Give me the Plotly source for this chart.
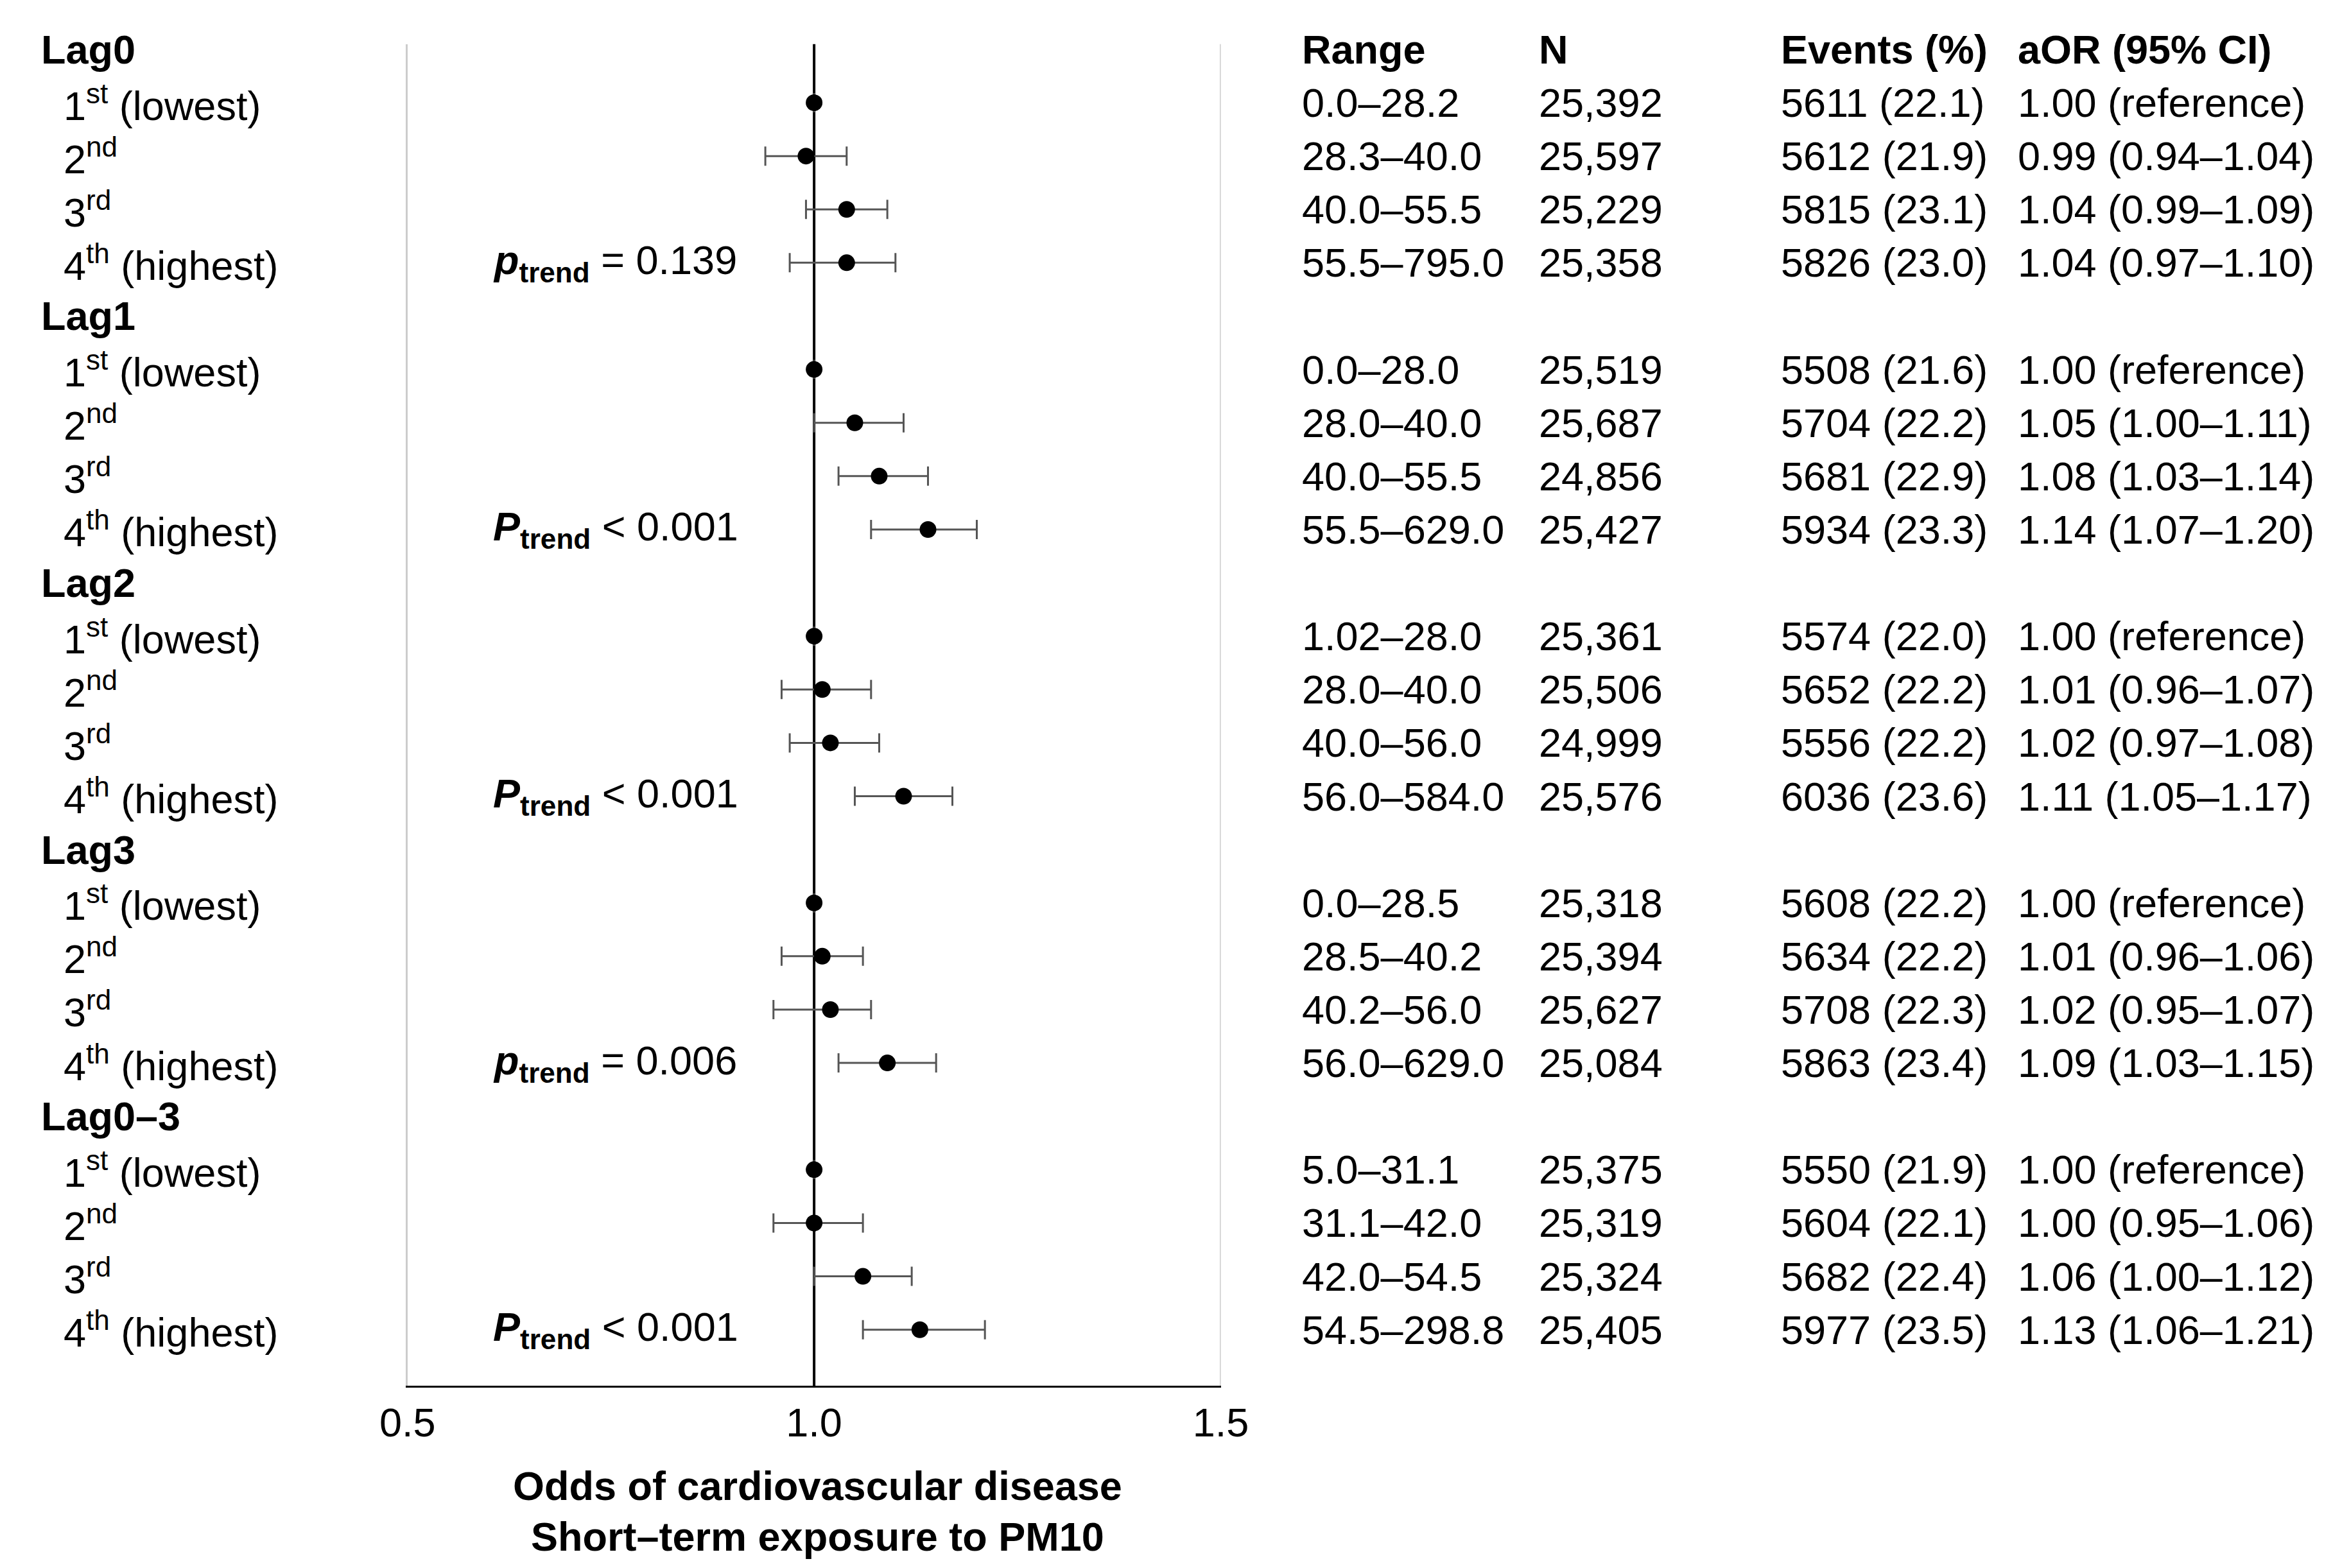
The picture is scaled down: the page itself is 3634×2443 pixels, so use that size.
import plotly.graph_objects as go

W, H = 3634, 2443

lags = ["Lag0", "Lag1", "Lag2", "Lag3", "Lag0–3"]
quart = ["1<sup>st</sup> (lowest)", "2<sup>nd</sup>", "3<sup>rd</sup>", "4<sup>th</sup> (highest)"]
ptrend = ["<b><i>p</i></b><sub><b>trend</b></sub> = 0.139",
          "<b><i>P</i></b><sub><b>trend</b></sub> < 0.001",
          "<b><i>P</i></b><sub><b>trend</b></sub> < 0.001",
          "<b><i>p</i></b><sub><b>trend</b></sub> = 0.006",
          "<b><i>P</i></b><sub><b>trend</b></sub> < 0.001"]
ranges = [["0.0–28.2", "28.3–40.0", "40.0–55.5", "55.5–795.0"],
          ["0.0–28.0", "28.0–40.0", "40.0–55.5", "55.5–629.0"],
          ["1.02–28.0", "28.0–40.0", "40.0–56.0", "56.0–584.0"],
          ["0.0–28.5", "28.5–40.2", "40.2–56.0", "56.0–629.0"],
          ["5.0–31.1", "31.1–42.0", "42.0–54.5", "54.5–298.8"]]
ns = [["25,392", "25,597", "25,229", "25,358"],
      ["25,519", "25,687", "24,856", "25,427"],
      ["25,361", "25,506", "24,999", "25,576"],
      ["25,318", "25,394", "25,627", "25,084"],
      ["25,375", "25,319", "25,324", "25,405"]]
events = [["5611 (22.1)", "5612 (21.9)", "5815 (23.1)", "5826 (23.0)"],
          ["5508 (21.6)", "5704 (22.2)", "5681 (22.9)", "5934 (23.3)"],
          ["5574 (22.0)", "5652 (22.2)", "5556 (22.2)", "6036 (23.6)"],
          ["5608 (22.2)", "5634 (22.2)", "5708 (22.3)", "5863 (23.4)"],
          ["5550 (21.9)", "5604 (22.1)", "5682 (22.4)", "5977 (23.5)"]]
aor = [[1.00, 0.99, 1.04, 1.04], [1.00, 1.05, 1.08, 1.14], [1.00, 1.01, 1.02, 1.11],
       [1.00, 1.01, 1.02, 1.09], [1.00, 1.00, 1.06, 1.13]]
lo = [[None, 0.94, 0.99, 0.97], [None, 1.00, 1.03, 1.07], [None, 0.96, 0.97, 1.05],
      [None, 0.96, 0.95, 1.03], [None, 0.95, 1.00, 1.06]]
hi = [[None, 1.04, 1.09, 1.10], [None, 1.11, 1.14, 1.20], [None, 1.07, 1.08, 1.17],
      [None, 1.06, 1.07, 1.15], [None, 1.06, 1.12, 1.21]]
headers = ["Range", "N", "Events (%)", "aOR (95% CI)"]
col_x = [876, 1036, 1199, 1359]

def TX(px):  # compensate observed offset/scale
    return (px - 20.5) / 0.98
def TY(py):
    return (py - 7) / 0.9965

FS = 63
font = dict(family="Liberation Sans, Arial, sans-serif", size=FS, color="black")

xs, ys, ep, em = [], [], [], []
ann = []
def A(x, y, t, bold=False, xanchor="left"):
    ann.append(dict(x=TX(x) / 1568.0, xref="paper", y=y, yref="y", text=f"<b>{t}</b>" if bold else t,
                    showarrow=False, xanchor=xanchor, yanchor="middle", font=font))

for j, h in enumerate(headers):
    A(col_x[j], 0, h, bold=True)
for i, lag in enumerate(lags):
    r0 = i * 5
    A(25, r0, lag, bold=True)
    for q in range(4):
        r = r0 + 1 + q
        A(40, r, quart[q])
        A(col_x[0], r, ranges[i][q]); A(col_x[1], r, ns[i][q])
        A(col_x[2], r, events[i][q])
        ci = "1.00 (reference)" if lo[i][q] is None else f"{aor[i][q]:.2f} ({lo[i][q]:.2f}–{hi[i][q]:.2f})"
        A(col_x[3], r, ci)
        xs.append(aor[i][q]); ys.append(r)
        ep.append(0 if hi[i][q] is None else hi[i][q] - aor[i][q])
        em.append(0 if lo[i][q] is None else aor[i][q] - lo[i][q])
    A(330, r0 + 4, ptrend[i])

for py, t in [(997, "Odds of cardiovascular disease"), (1031, "Short–term exposure to PM10")]:
    ann.append(dict(x=TX(550) / 1568.0, xref="paper", y=1 - TY(py) / 1052.0, yref="paper", showarrow=False,
                    text=f"<b>{t}</b>", font=font, xanchor="center", yanchor="middle"))

fig = go.Figure(go.Scatter(x=xs, y=ys, mode="markers",
                           marker=dict(color="black", size=26),
                           error_x=dict(type="data", array=ep, arrayminus=em, color="#555555",
                                        thickness=3, width=15)))
ytop, ybot = -0.1, 25.05
fig.update_layout(width=W, height=H, margin=dict(l=0, r=0, t=0, b=0),
                  plot_bgcolor="white", paper_bgcolor="white", showlegend=False,
                  annotations=ann, font=font,
                  xaxis=dict(domain=[TX(273) / 1568.0, TX(822) / 1568.0], range=[0.5, 1.5],
                             tickvals=[0.5, 1.0, 1.5], ticktext=["0.5", "1.0", "1.5"],
                             showgrid=False, zeroline=False, showline=True, linecolor="black",
                             linewidth=3, ticks="", tickfont=font),
                  yaxis=dict(domain=[1 - TY(930) / 1052.0, 1 - TY(33) / 1052.0], range=[ybot, ytop],
                             showgrid=False, zeroline=False, showticklabels=False,
                             showline=True, linecolor="#cccccc", linewidth=3),
                  shapes=[dict(type="line", x0=1.0, x1=1.0, y0=ytop, y1=ybot, xref="x", yref="y",
                               line=dict(color="black", width=4), layer="below"),
                          dict(type="line", x0=1.5, x1=1.5, y0=ytop, y1=ybot, xref="x", yref="y",
                               line=dict(color="#cccccc", width=3))])
fig.write_html("out.html")
